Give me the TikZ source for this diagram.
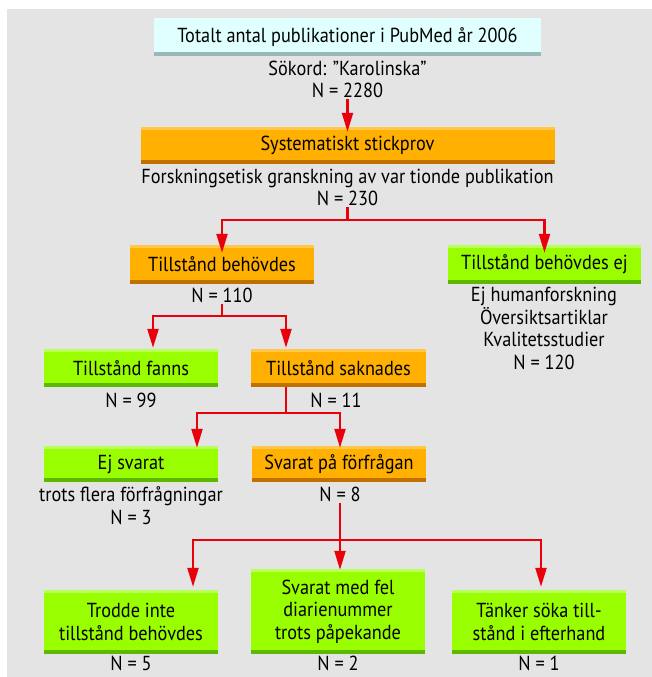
\documentclass[tikz,border=0pt]{standalone}
\usepackage{fontspec}
\setmainfont{PT Sans}[FakeStretch=0.9]
\usetikzlibrary{arrows.meta}

\definecolor{bggray}{HTML}{E4E4E4}
\definecolor{cyanfill}{HTML}{E0FFFF}
\definecolor{cyanbottom}{HTML}{9BB7B7}
\definecolor{boxorange}{HTML}{FFB000}
\definecolor{orangetop}{HTML}{FFC848}
\definecolor{orangebottom}{HTML}{C07000}
\definecolor{boxgreen}{HTML}{99FF00}
\definecolor{greentop}{HTML}{B8FF5A}
\definecolor{greenbottom}{HTML}{5CB800}
\definecolor{linkred}{HTML}{E8000B}

\begin{document}
\begin{tikzpicture}[x=1pt,y=-1pt,
  every node/.style={font=\fontsize{20.3}{22.5}\selectfont,inner sep=1pt,align=center},
  bandbox/.style n args={3}{fill=#1,minimum height=38pt,inner sep=0pt,
    path picture={
      \fill[#2] (path picture bounding box.north west) rectangle
        ([yshift=-3pt]path picture bounding box.north east);
      \fill[#3] (path picture bounding box.south west) rectangle
        ([yshift=4pt]path picture bounding box.south east);}},
  orangebox/.style={bandbox={boxorange}{orangetop}{orangebottom}},
  greenbox/.style={bandbox={boxgreen}{greentop}{greenbottom}},
  link/.style={draw=linkred,line width=2.2pt,-{Triangle[length=19pt,width=11pt]}},
  stem/.style={draw=linkred,line width=2.2pt}]
  \useasboundingbox (0,0) rectangle (652,677);
  \fill[bggray] (7,9) rectangle (652,677);

  \node[bandbox={cyanfill}{cyanfill}{cyanbottom},minimum width=387pt] (pubmed)
    at (347.5,37) {Totalt antal publikationer i PubMed år 2006};
  \node (sokord) at (347.5,79.5) {Sökord: ”Karolinska”\\N = 2280};
  \node[orangebox,minimum width=414pt,minimum height=37pt] (stickprov)
    at (347.5,145.5) {Systematiskt stickprov};
  \node (granskning) at (347.5,187.5)
    {Forskningsetisk granskning av var tionde publikation\\N = 230};

  \node[orangebox,minimum width=184pt,minimum height=39pt] (behovdes)
    at (222,264.5) {Tillstånd behövdes};
  \node[greenbox,minimum width=193pt,minimum height=39pt] (behovdesej)
    at (544.5,264.5) {Tillstånd behövdes ej};
  \node (n110) at (222,295) {N = 110};
  \node (ejhuman) at (544,328.5)
    {Ej humanforskning\\Översiktsartiklar\\Kvalitetsstudier\\N = 120};

  \node[greenbox,minimum width=174pt] (fanns) at (131,368) {Tillstånd fanns};
  \node[orangebox,minimum width=175pt] (saknades) at (338.5,368) {Tillstånd saknades};
  \node (n99) at (131,400) {N = 99};
  \node (n11) at (336,400) {N = 11};

  \node[greenbox,minimum width=174pt,minimum height=36pt] (ejsvarat)
    at (131,464) {Ej svarat};
  \node[orangebox,minimum width=174pt,minimum height=36pt] (svarat)
    at (339,464) {Svarat på förfrågan};
  \node (trots) at (131,505.5) {trots flera förfrågningar\\N = 3};
  \node (n8) at (340,494) {N = 8};

  \node[greenbox,minimum width=174pt,minimum height=64pt] (trodde)
    at (131,622) {Trodde inte\\tillstånd behövdes};
  \node[greenbox,minimum width=174pt,minimum height=85pt] (felnummer)
    at (338,611.5) {Svarat med fel\\diarienummer\\trots påpekande};
  \node[greenbox,minimum width=174pt,minimum height=64pt] (tanker)
    at (539,622) {Tänker söka till-\\stånd i efterhand};
  \node (n5) at (131,663) {N = 5};
  \node (n2) at (338,663) {N = 2};
  \node (n1) at (539,663) {N = 1};

  \coordinate (fork1) at (347.5,220);
  \coordinate (fork2) at (222,316);
  \coordinate (fork3) at (286,413);
  \coordinate (fork4) at (340,540);

  \draw[link] (sokord) -- ([yshift=-5pt]stickprov.north);
  \draw[stem] (granskning) -- (fork1);
  \draw[link] (fork1) -| ([yshift=-8pt]behovdes.north);
  \draw[link] (fork1) -| ([yshift=-8pt]behovdesej.north);
  \draw[stem] (n110) -- (fork2);
  \draw[link] (fork2) -| ([xshift=22pt,yshift=1pt]fanns.north);
  \draw[link] (fork2) -| ([xshift=-52.5pt,yshift=1pt]saknades.north);
  \draw[stem] (saknades.south -| fork3) -- (fork3);
  \draw[link] (fork3) -| ([xshift=66pt,yshift=-2pt]ejsvarat.north);
  \draw[link] (fork3) -| ([xshift=1pt,yshift=-2pt]svarat.north);
  \draw[stem] (n8) -- (fork4);
  \draw[link] (fork4) -| ([xshift=62pt,yshift=3pt]trodde.north);
  \draw[link] (fork4) -- ([yshift=-1pt]fork4 |- felnummer.north);
  \draw[link] (fork4) -| ([xshift=2pt,yshift=3pt]tanker.north);
\end{tikzpicture}
\end{document}
